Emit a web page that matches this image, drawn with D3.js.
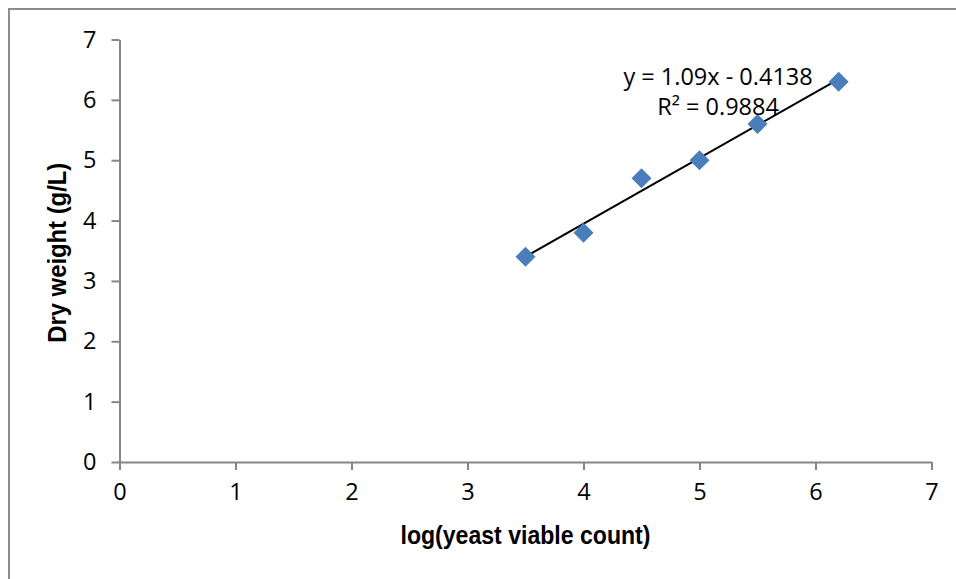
<!DOCTYPE html>
<html>
<head>
<meta charset="utf-8">
<script src="https://cdn.jsdelivr.net/npm/d3@7/dist/d3.min.js"></script>
<style>
  html, body { margin: 0; padding: 0; background: #fff; }
  svg { display: block; }
</style>
</head>
<body>
<script>
// Yeast viable count (log) vs. dry weight
const logCount = [3.5, 4, 4.5, 5, 5.5, 6.2];
const dryWeight = [3.4, 3.8, 4.7, 5.0, 5.6, 6.3];
const xTicks = [0, 1, 2, 3, 4, 5, 6, 7];
const yTicks = [0, 1, 2, 3, 4, 5, 6, 7];
const slope = 1.09;
const intercept = -0.4138;
const rSquared = 0.9884;

const W = 956, H = 579;
const plot = { left: 119.5, right: 931.5, top: 39.5, bottom: 462 };

const svg = d3.select("body").append("svg")
  .attr("width", W).attr("height", H);

// chart frame (right and bottom edges fall outside the page)
svg.append("path")
  .attr("d", `M${W + 5},9 H9 V${H + 5}`)
  .attr("fill", "none")
  .attr("stroke", "#8c8c8c")
  .attr("stroke-width", 2);

const x = d3.scaleLinear().domain([0, 7]).range([plot.left, plot.right]);
const y = d3.scaleLinear().domain([0, 7]).range([plot.bottom, plot.top]);

const tickFont = "'Open Sans', 'Noto Sans', sans-serif";
const axisColor = "#868686";

const gx = svg.append("g")
  .attr("transform", `translate(0,${plot.bottom})`)
  .call(d3.axisBottom(x).tickValues(xTicks).tickFormat(d3.format("d"))
    .tickSize(8).tickSizeOuter(0).tickPadding(13));

const gy = svg.append("g")
  .attr("transform", `translate(${plot.left},0)`)
  .call(d3.axisLeft(y).tickValues(yTicks).tickFormat(d3.format("d"))
    .tickSize(8).tickSizeOuter(0).tickPadding(15));

[gx, gy].forEach(g => {
  g.select(".domain").attr("stroke", axisColor).attr("stroke-width", 2);
  g.selectAll(".tick line").attr("stroke", axisColor).attr("stroke-width", 2);
  g.selectAll(".tick text")
    .attr("fill", "#000")
    .style("font-family", tickFont)
    .style("font-size", "23.5px");
});

// linear trendline across the data range
const xMin = d3.min(logCount), xMax = d3.max(logCount);
svg.append("line")
  .attr("x1", x(xMin)).attr("y1", y(slope * xMin + intercept))
  .attr("x2", x(xMax)).attr("y2", y(slope * xMax + intercept))
  .attr("stroke", "#000")
  .attr("stroke-width", 2);

// diamond markers
const diamond = d3.symbol().type(d3.symbolSquare).size(200);
svg.append("g").selectAll("path")
  .data(d3.zip(logCount, dryWeight))
  .join("path")
  .attr("d", diamond)
  .attr("transform", d => `translate(${x(d[0])},${y(d[1])}) rotate(45)`)
  .attr("fill", "#4a7ebb");

// regression equation
const eq = svg.append("text")
  .attr("text-anchor", "middle")
  .style("font-family", tickFont)
  .style("font-size", "23.5px")
  .attr("fill", "#000");
eq.append("tspan").attr("x", x(5.16)).attr("y", 85)
  .text(`y = ${slope}x - ${Math.abs(intercept)}`);
eq.append("tspan").attr("x", x(5.16)).attr("y", 115)
  .text(`R² = ${rSquared}`);

// axis titles, bold and condensed
const titleFont = "'Liberation Sans Narrow', 'Liberation Sans', Arial, sans-serif";
svg.append("text")
  .attr("x", (plot.left + plot.right) / 2)
  .attr("y", 544)
  .attr("text-anchor", "middle")
  .attr("textLength", 250)
  .attr("lengthAdjust", "spacingAndGlyphs")
  .style("font-family", titleFont)
  .style("font-weight", "bold")
  .style("font-size", "26px")
  .text("log(yeast viable count)");

svg.append("text")
  .attr("transform", `translate(66,${(plot.top + plot.bottom) / 2 + 2}) rotate(-90)`)
  .attr("text-anchor", "middle")
  .attr("textLength", 180)
  .attr("lengthAdjust", "spacingAndGlyphs")
  .style("font-family", titleFont)
  .style("font-weight", "bold")
  .style("font-size", "26px")
  .text("Dry weight (g/L)");
</script>
</body>
</html>
